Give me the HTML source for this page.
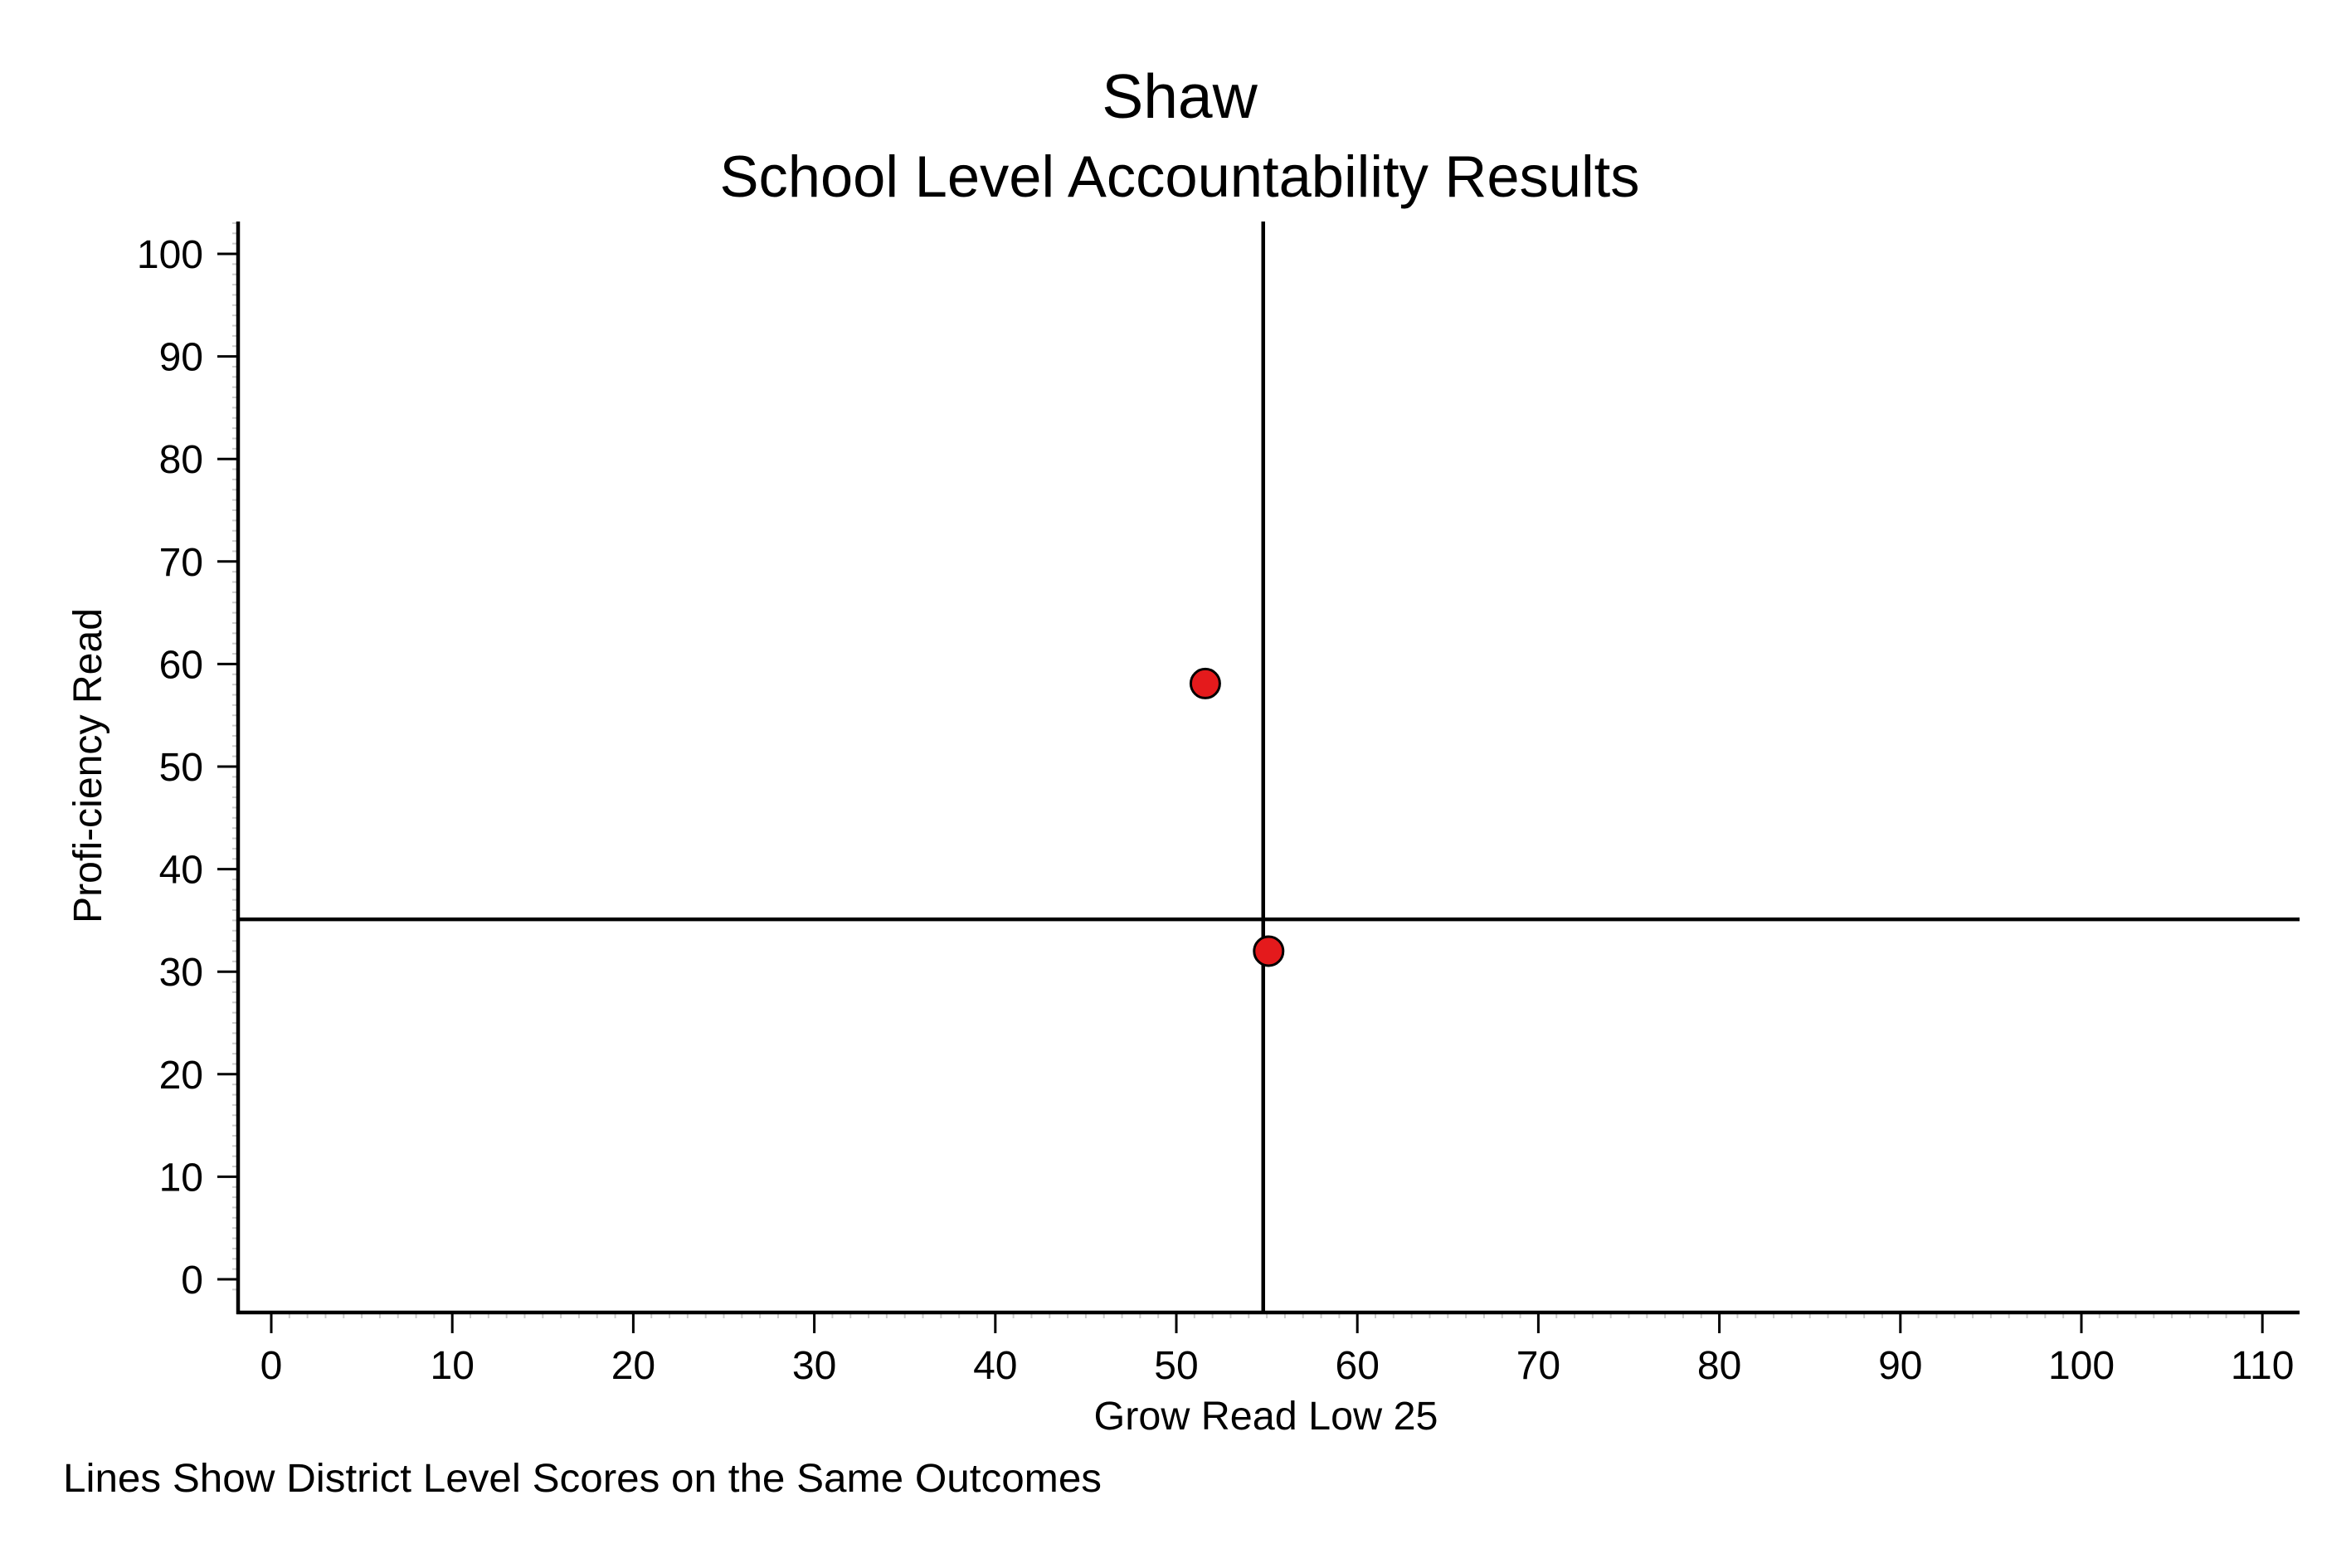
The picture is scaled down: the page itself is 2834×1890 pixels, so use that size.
<!DOCTYPE html>
<html><head><meta charset="utf-8"><style>html,body{margin:0;padding:0;background:#fff}svg{display:block}</style></head>
<body>
<svg id="chart" width="2834" height="1890" viewBox="0 0 2834 1890" xmlns="http://www.w3.org/2000/svg" font-family="'Liberation Sans', Arial, sans-serif">
<rect width="2834" height="1890" fill="#fff"/>
<text x="1422" y="142" font-size="75" text-anchor="middle">Shaw</text>
<text x="1422" y="237" font-size="70.5" text-anchor="middle">School Level Accountability Results</text>
<g id="axes"></g>
<text x="1526" y="1723" font-size="48" text-anchor="middle" textLength="415" lengthAdjust="spacingAndGlyphs">Grow Read Low 25</text>
<text transform="translate(122,923) rotate(-90)" font-size="48" text-anchor="middle" textLength="380" lengthAdjust="spacingAndGlyphs">Profi-ciency Read</text>
<text x="76" y="1798" font-size="48" textLength="1252" lengthAdjust="spacingAndGlyphs">Lines Show District Level Scores on the Same Outcomes</text>
</svg>
<script>
const xTicks = [0,10,20,30,40,50,60,70,80,90,100,110];
const yTicks = [0,10,20,30,40,50,60,70,80,90,100];
const districtX = [54.8];
const districtY = [35.1];
const schoolX = [51.6, 55.1];
const schoolY = [58.1, 32.0];

const NS = 'http://www.w3.org/2000/svg';
const x0 = 327, xk = 21.82, y0 = 1542, yk = 12.36;
function sx(v){return x0 + v*xk;}
function sy(v){return y0 - v*yk;}
const L = 287, R = 2772, T = 267, B = 1582;
const g = document.getElementById('axes');
function el(tag, attrs, parent){const e=document.createElementNS(NS,tag);for(const k in attrs)e.setAttribute(k,attrs[k]);(parent||g).appendChild(e);return e;}

for(let v=0; v<=110; v++){
  if(v%10===0) continue;
  const t=el('line',{x1:sx(v),x2:sx(v),y1:B,y2:B+7,stroke:'#ccc','stroke-width':2});
  
  
}
for(let v=-1; v<=103; v++){
  if(v%10===0) continue;
  const y=sy(v); if(y<T||y>B) continue;
  const t=el('line',{x1:L-7,x2:L,y1:y,y2:y,stroke:'#ccc','stroke-width':2});
  
  
}
const xa=el('line',{x1:L-2,x2:R,y1:B,y2:B,stroke:'#000','stroke-width':4.5});


const ya=el('line',{x1:L,x2:L,y1:T,y2:B+2,stroke:'#000','stroke-width':4.5});



xTicks.forEach(v=>{
  const t=el('line',{x1:sx(v),x2:sx(v),y1:B,y2:B+25,stroke:'#000','stroke-width':3});
  
  
  const l=el('text',{x:sx(v),y:1662,'font-size':48,'text-anchor':'middle'});
  l.textContent=v;
  
  
});
yTicks.forEach(v=>{
  const t=el('line',{x1:L-25,x2:L,y1:sy(v),y2:sy(v),stroke:'#000','stroke-width':3});
  
  
  const l=el('text',{x:245,y:sy(v)+17,'font-size':48,'text-anchor':'end'});
  l.textContent=v;
  
  
});
districtX.forEach(v=>{
  const l=el('line',{x1:sx(v),x2:sx(v),y1:T,y2:B,stroke:'#000','stroke-width':4.5});
  
  
});
districtY.forEach(v=>{
  const l=el('line',{x1:L,x2:R,y1:sy(v),y2:sy(v),stroke:'#000','stroke-width':4.5});
  
  
});
schoolX.forEach((v,i)=>{
  const c=el('circle',{cx:sx(v),cy:sy(schoolY[i]),r:17.5,fill:'#e41a1c',stroke:'#000','stroke-width':3});
  
  
});
</script>
</body></html>
